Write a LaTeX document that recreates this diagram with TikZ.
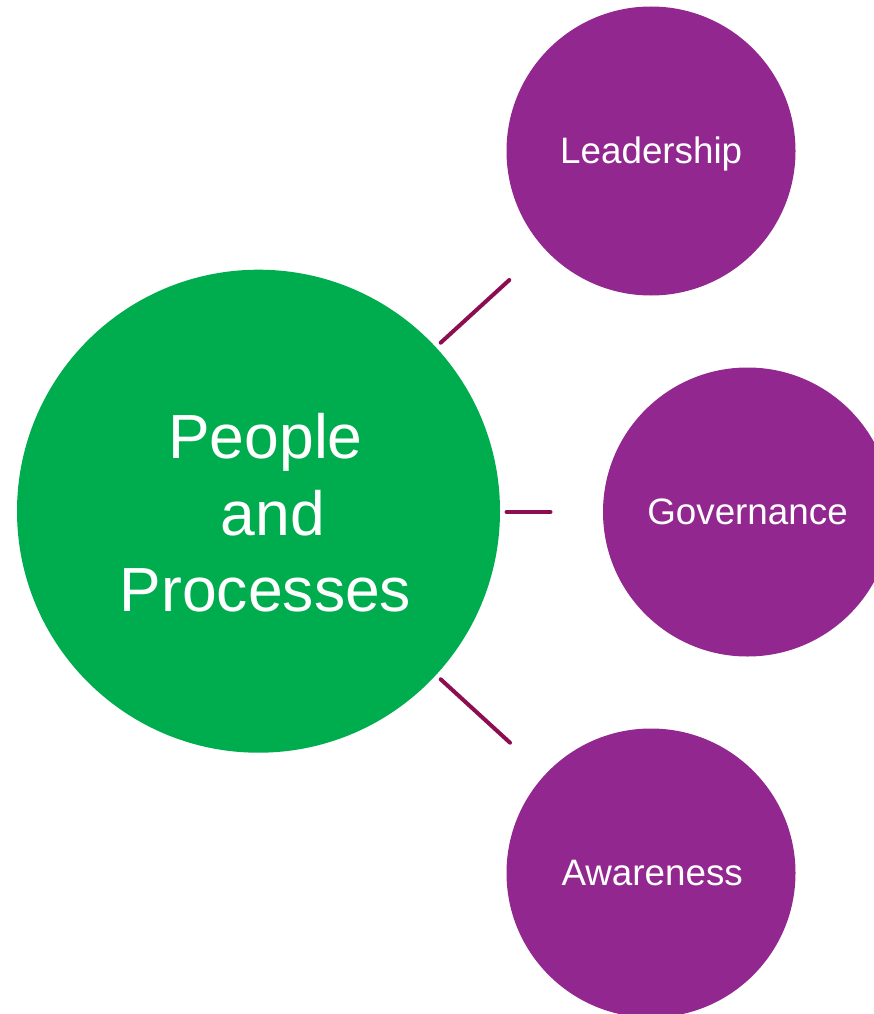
\documentclass[tikz,border=0pt]{standalone}
\usepackage{fontspec}
\setmainfont{Liberation Sans}
\definecolor{pgreen}{RGB}{0,173,78}
\definecolor{ppurple}{RGB}{146,39,143}
\definecolor{pline}{RGB}{140,14,80}
\begin{document}
\begin{tikzpicture}[x=1pt,y=-1pt,
  hub/.style={circle,fill=pgreen,minimum size=483pt,inner sep=0pt},
  sat/.style={circle,fill=ppurple,minimum size=289pt,inner sep=0pt},
  lbl/.style={text=white,inner sep=0pt,anchor=base,font=\fontsize{36.8}{44}\selectfont},
  link/.style={draw=pline,line width=4pt,line cap=round}]
\useasboundingbox (0,0) rectangle (874,1014);
\begin{scope}
\clip (0,0) rectangle (874,1014);
\node[hub] (hub) at (258.5,511.2) {};
\node[sat] (lead) at (651,151) {};
\node[sat] (gov) at (747.5,512) {};
\node[sat] (aware) at (651,873) {};
\end{scope}
\node[text=white,inner sep=0pt,align=center,anchor=base,font=\fontsize{62.4}{76.7}\selectfont] (hubtext) at (265.5,611.7) {People\\\hspace*{15pt}and\\Processes};
\node[lbl] (leadtext) at (651.2,163.5) {Leadership};
\node[lbl] (govtext) at (747.5,524.3) {Governance};
\node[lbl] (awaretext) at (652.2,885) {Awareness};
\coordinate (l1a) at (440.7,342.7);
\coordinate (l1b) at (509.3,280);
\coordinate (l2a) at (506.5,512);
\coordinate (l2b) at (550.5,512);
\coordinate (l3a) at (440.7,679.3);
\coordinate (l3b) at (510,742.7);
\draw[link] (l1a) -- (l1b);
\draw[link] (l2a) -- (l2b);
\draw[link] (l3a) -- (l3b);
\end{tikzpicture}
\end{document}
